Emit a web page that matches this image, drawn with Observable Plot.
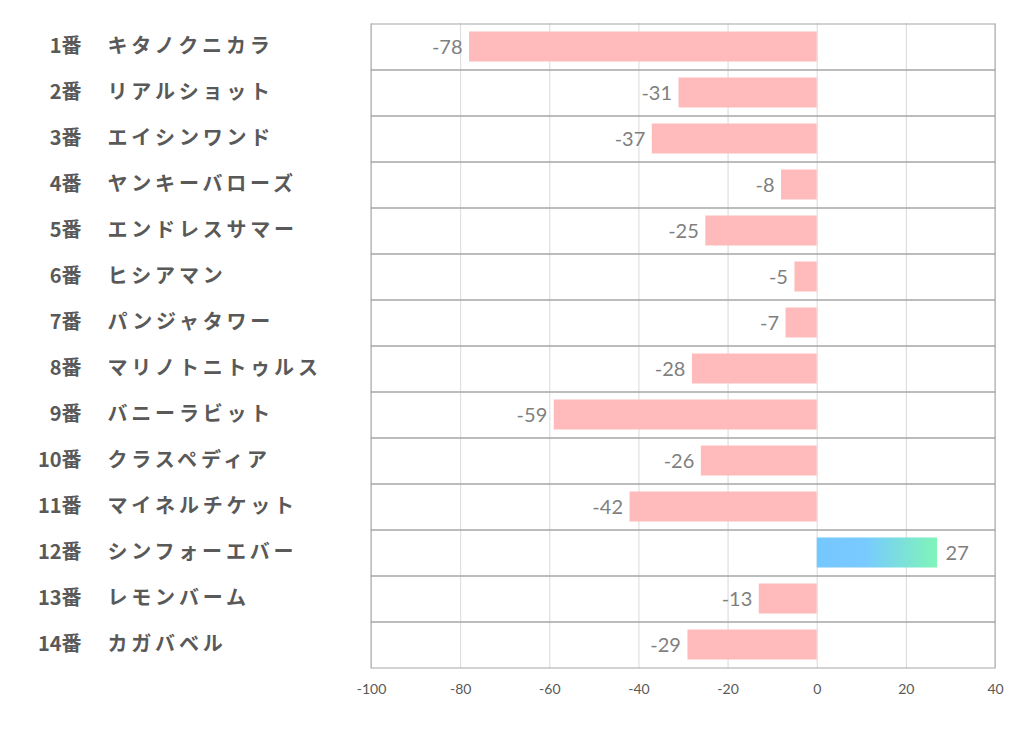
<!DOCTYPE html>
<html>
<head>
<meta charset="utf-8">
<script src="https://cdn.jsdelivr.net/npm/d3@7"></script>
<script src="https://cdn.jsdelivr.net/npm/@observablehq/plot@0.6"></script>
<style>
  html, body { margin: 0; padding: 0; background: #fff; }
  #chart { width: 1022px; height: 730px; }
</style>
</head>
<body>
<div id="chart"></div>
<script>
const numbers = ["1番","2番","3番","4番","5番","6番","7番","8番","9番","10番","11番","12番","13番","14番"];
const names = ["キタノクニカラ","リアルショット","エイシンワンド","ヤンキーバローズ","エンドレスサマー","ヒシアマン","パンジャタワー","マリノトニトゥルス","バニーラビット","クラスペディア","マイネルチケット","シンフォーエバー","レモンバーム","カガバベル"];
const values = [-78, -31, -37, -8, -25, -5, -7, -28, -59, -26, -42, 27, -13, -29];
const xTicks = [-100, -80, -60, -40, -20, 0, 20, 40];

const data = numbers.map((n, i) => ({ key: n, num: n, name: names[i], value: values[i] }));
const neg = data.filter(d => d.value < 0);
const pos = data.filter(d => d.value >= 0);

const chart = Plot.plot({
  width: 1022,
  height: 730,
  marginLeft: 371,
  marginRight: 27,
  marginTop: 23,
  marginBottom: 62,
  style: { fontFamily: "Lato, 'Noto Sans', sans-serif", background: "#fff" },
  x: { domain: [-100, 40], ticks: xTicks, tickSize: 0, tickPadding: 16, label: null, tickFormat: d => String(d) },
  y: { domain: numbers, padding: 0, axis: null },
  marks: [
    Plot.gridX({ ticks: xTicks, stroke: "#d9d9d9", strokeOpacity: 1 }),
    Plot.barX(data, { x1: -100, x2: 40, y: "key", fill: "none", stroke: "#a6a6a6", strokeWidth: 1 }),
    Plot.barX(neg, { x1: 0, x2: "value", y: "key", fill: "#ffbbbb", insetTop: 7.5, insetBottom: 8.5 }),
    Plot.barX(pos, { x1: 0, x2: "value", y: "key", fill: "url(#blueGreen)", insetTop: 7.5, insetBottom: 8.5 }),
    Plot.text(neg, { x: "value", y: "key", text: d => String(d.value), textAnchor: "end", dx: -7, fill: "#7f7f7f", fontSize: 20 }),
    Plot.text(pos, { x: "value", y: "key", text: d => String(d.value), textAnchor: "start", dx: 8, fill: "#7f7f7f", fontSize: 20 }),
    Plot.text(data, { y: "key", frameAnchor: "left", text: "num", textAnchor: "end", dx: -290, dy: -1, fill: "#595959", fontSize: 20, fontWeight: "bold", fontFamily: "'Noto Sans CJK JP', sans-serif" }),
    Plot.text(data, { y: "key", frameAnchor: "left", text: "name", textAnchor: "start", dx: -264, dy: -1, fill: "#595959", fontSize: 20, fontWeight: "bold", fontFamily: "'Noto Sans CJK JP', sans-serif" }),
    Plot.axisX({ ticks: xTicks, tickSize: 0, tickPadding: 16, fill: "#595959", fontSize: 14, tickFormat: d => String(d), label: null })
  ]
});

// widen the katakana names like the reference
const nameSet = new Set(names);
d3.select(chart).selectAll("text").each(function () {
  if (nameSet.has(this.textContent)) this.setAttribute("letter-spacing", "3.8");
});

const ns = "http://www.w3.org/2000/svg";
const defs = document.createElementNS(ns, "defs");
const grad = document.createElementNS(ns, "linearGradient");
grad.setAttribute("id", "blueGreen");
grad.setAttribute("x1", "0"); grad.setAttribute("x2", "1");
grad.setAttribute("y1", "0"); grad.setAttribute("y2", "0");
[["0", "#75c7ff"], ["0.4", "#78caff"], ["1", "#7ff5b8"]].forEach(([o, c]) => {
  const s = document.createElementNS(ns, "stop");
  s.setAttribute("offset", o); s.setAttribute("stop-color", c);
  grad.appendChild(s);
});
defs.appendChild(grad);
chart.insertBefore(defs, chart.firstChild);

document.getElementById("chart").appendChild(chart);
</script>
</body>
</html>
